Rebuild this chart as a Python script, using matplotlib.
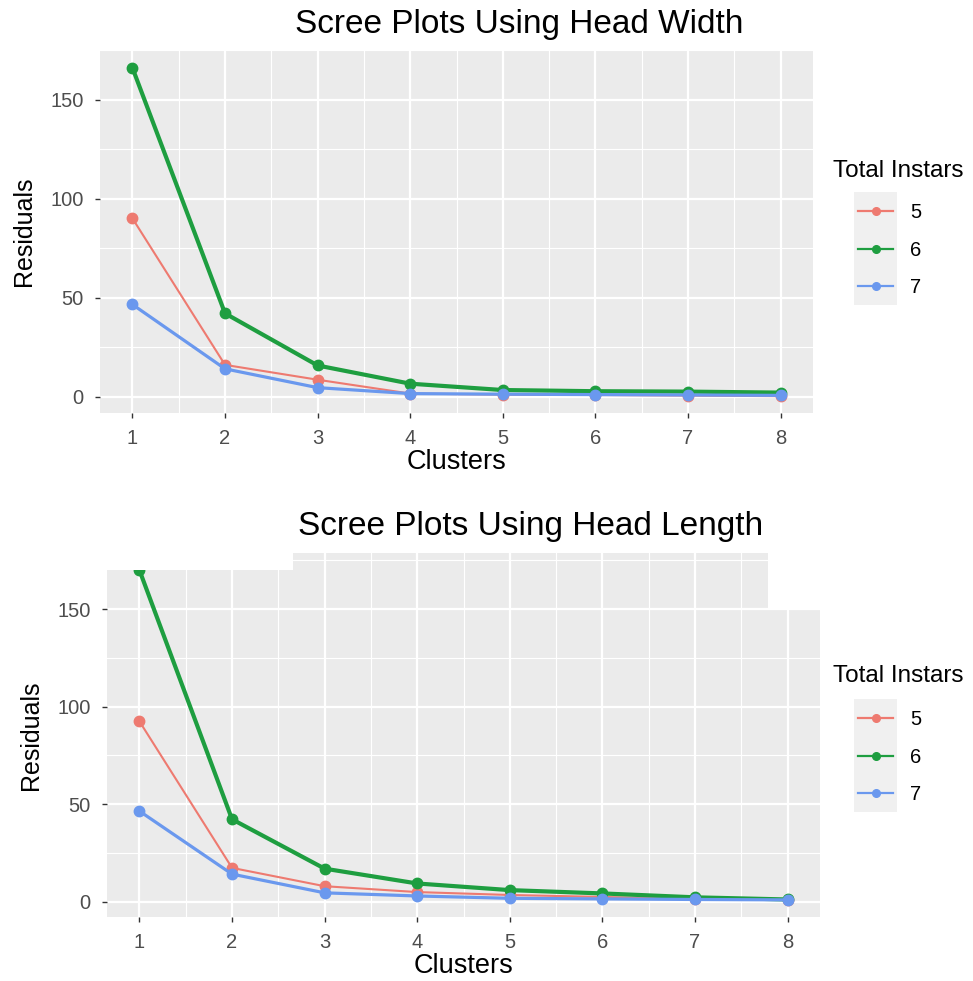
import numpy as np
import matplotlib
matplotlib.use("Agg")
import matplotlib.pyplot as plt
from matplotlib.patches import Rectangle

########################################################
# DATA
########################################################

clusters = [1, 2, 3, 4, 5, 6, 7, 8]

instar_labels = ["5", "6", "7"]

width_5 = [90.0, 16.0, 8.5, 1.5, 1.0, 0.8, 0.5, 0.2]
width_6 = [166.0, 42.0, 15.7, 6.5, 3.3, 2.7, 2.5, 2.0]
width_7 = [46.5, 14.0, 4.5, 1.5, 1.2, 1.0, 0.8, 0.6]

length_5 = [92.5, 17.4, 8.0, 5.0, 3.5, 2.5, 1.5, 1.0]
length_6 = [170.0, 42.3, 17.0, 9.4, 6.0, 4.3, 2.3, 1.2]
length_7 = [46.5, 14.2, 4.6, 3.0, 1.8, 1.5, 1.2, 1.0]

y_ticks = [0, 50, 100, 150]

colors = ["#EE7A70", "#1E9E40", "#6A98EE"]
line_widths = [1.5, 3.0, 2.3]

########################################################
# STYLE
########################################################

plt.rcParams["font.family"] = ["Liberation Sans", "DejaVu Sans"]

PANEL = "#EBEBEB"
TICK_COLOR = "#4D4D4D"


def style_panel(ax, ylim):

    ax.set_facecolor(PANEL)

    for side in ax.spines.values():
        side.set_visible(False)

    ax.set_xlim(0.65, 8.35)
    ax.set_ylim(*ylim)

    ax.set_xticks(clusters)
    ax.set_yticks(y_ticks)

    ax.set_xticks(np.arange(1.5, 8.0, 1.0), minor=True)
    ax.set_yticks([25, 75, 125, 175], minor=True)

    ax.grid(which="major", color="white", linewidth=1.6)
    ax.grid(which="minor", color="white", linewidth=0.8)
    ax.set_axisbelow(True)

    ax.tick_params(which="major", length=3.8, width=1.0,
                   color="#333333", labelcolor=TICK_COLOR,
                   labelsize=14.5)
    ax.tick_params(axis="x", pad=7.5)
    ax.tick_params(axis="y", pad=8.0)
    ax.tick_params(which="minor", length=0)

    ax.set_xlabel("Clusters", fontsize=19.5, labelpad=1)
    ax.set_ylabel("Residuals", fontsize=18, labelpad=10)


def draw_series(ax, series):

    for values, label, color, lw in zip(
            series, instar_labels, colors, line_widths):
        ax.plot(clusters, values, color=color, linewidth=lw,
                marker="o", markersize=7.5, label=label,
                solid_joinstyle="round")


def add_legend(ax, title_xy, anchor):

    fig = ax.figure

    fig.text(title_xy[0], title_xy[1], "Total Instars",
             fontsize=17.5, ha="left", va="baseline")

    leg = ax.legend(
        loc="upper left",
        bbox_to_anchor=anchor,
        bbox_transform=fig.transFigure,
        fontsize=14.5,
        frameon=False,
        borderpad=0,
        handlelength=1.75,
        handletextpad=0.85,
        labelspacing=0.93,
        borderaxespad=0
    )

    for h in leg.legend_handles:
        h.set_linewidth(1.6)
        h.set_markersize(5.5)

    return leg


def shade_keys(fig, leg):

    # grey boxes behind the legend keys, as ggplot draws them
    renderer = fig.canvas.get_renderer()
    boxes = [h.get_window_extent(renderer) for h in leg.legend_handles]

    cx = np.mean([(b.x0 + b.x1) / 2 for b in boxes])
    cys = [(b.y0 + b.y1) / 2 for b in boxes]
    step = abs(cys[0] - cys[1])

    x0 = cx - 21.5
    y0 = min(cys) - step / 2
    w = 43
    h = max(cys) - min(cys) + step

    inv = fig.transFigure.inverted()
    (fx0, fy0) = inv.transform((x0, y0))
    (fx1, fy1) = inv.transform((x0 + w, y0 + h))

    fig.add_artist(Rectangle((fx0, fy0), fx1 - fx0, fy1 - fy0,
                             transform=fig.transFigure,
                             facecolor="#F0F0F0", edgecolor="none",
                             zorder=0))


########################################################
# FIGURE
########################################################

fig = plt.figure(figsize=(9.73, 9.81), dpi=100)

ax_top = fig.add_axes([0.1028, 0.5790, 0.7328, 0.3700])
ax_bot = fig.add_axes([0.1100, 0.0652, 0.7328, 0.3711])

########################################################
# PLOT 1
# HEAD WIDTH
########################################################

style_panel(ax_top, (-8.3, 174))
draw_series(ax_top, [width_5, width_6, width_7])

fig.text(0.534, 0.9664, "Scree Plots Using Head Width",
         fontsize=24, ha="center", va="baseline")

leg_top = add_legend(ax_top, (833 / 973, 1 - 177 / 981),
                     (858 / 973, 1 - 203 / 981))

########################################################
# PLOT 2
# HEAD LENGTH
########################################################

style_panel(ax_bot, (-7.8, 178.8))
draw_series(ax_bot, [length_5, length_6, length_7])

fig.text(0.545, 0.4546, "Scree Plots Using Head Length",
         fontsize=24, ha="center", va="baseline")

leg_bot = add_legend(ax_bot, (833 / 973, 1 - 682 / 981),
                     (858 / 973, 1 - 710 / 981))

# white patches where the lower panel was cut in the source image
fig.add_artist(Rectangle((0.105, 1 - 570 / 981), 0.196, 26 / 981,
                         transform=fig.transFigure, facecolor="white",
                         edgecolor="none", zorder=5))
fig.add_artist(Rectangle((0.7893, 1 - 608 / 981), 0.062, 63 / 981,
                         transform=fig.transFigure, facecolor="white",
                         edgecolor="none", zorder=5))

fig.canvas.draw()
shade_keys(fig, leg_top)
shade_keys(fig, leg_bot)

fig.savefig("out.png", dpi=100, facecolor="white")
